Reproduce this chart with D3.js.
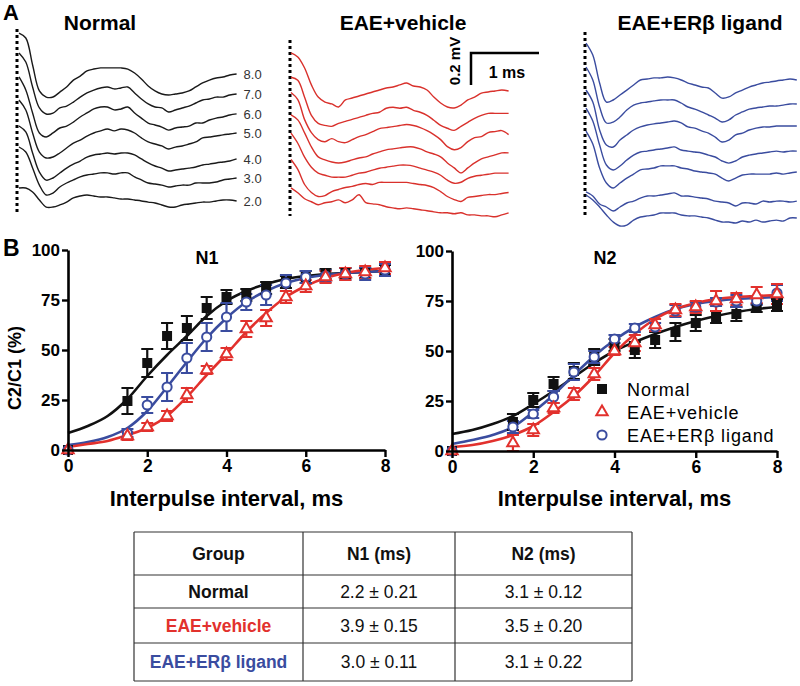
<!DOCTYPE html>
<html><head><meta charset="utf-8">
<script src="https://cdn.jsdelivr.net/npm/d3@7"></script>
<style>
body{margin:0;background:#fff}
svg{display:block;font-family:"Liberation Sans",Arial,Helvetica,sans-serif}
</style>
</head><body>
<svg id="chart" width="800" height="686"></svg>
<script>
// ---------------- DATA ----------------
const groups = ["Normal", "EAE+vehicle", "EAE+ER\u03b2 ligand"];
const colors = ["#111111", "#e2312d", "#3a4c9f"];

// Panel B: interpulse intervals (ms) and C2/C1 (%)
const intervals = [0, 1.5, 2, 2.5, 3, 3.5, 4, 4.5, 5, 5.5, 6, 6.5, 7, 7.5, 8];
const n1Normal   = [0, 24.5, 43.5, 57, 61, 71, 76.5, 77.5, 81, 84, 86.5, 88, 88.5, 88.5, 90];
const n1NormalErr= [1, 6.5, 7, 6.5, 6, 5.5, 3.5, 3, 3, 3, 3, 2.5, 2.5, 2.5, 2.5];
const n1Vehicle  = [0, 7, 11.5, 17, 27.5, 40, 48, 60.5, 66, 76.5, 82, 86.5, 88, 89, 91];
const n1VehicleErr=[1, 2, 2, 2.5, 3.5, 2, 3, 4, 4, 3, 3, 3, 3, 3, 3];
const n1Ligand   = [0, 8.5, 22.5, 31.5, 46, 56.5, 66.5, 74, 77.5, 83.5, 86.5, 87, 88, 88, 90];
const n1LigandErr= [1, 2, 4, 7, 7.5, 7, 7, 4, 5, 4, 3, 3, 3, 3, 3];
const n2Normal   = [0, 14.5, 25.5, 33.5, 40, 47, 53, 50.5, 55.5, 59.5, 64, 67, 68.5, 71.5, 73];
const n2NormalErr= [1, 4, 3.5, 3.5, 4, 4, 3, 4, 4, 4.5, 4, 3, 3.5, 2, 3];
const n2Vehicle  = [0, 4, 10.5, 21.5, 28.5, 38.5, 50, 54, 63, 70.5, 72, 75, 76, 78, 78.5];
const n2VehicleErr=[1, 4, 3, 2.5, 3, 3, 2, 4, 3, 3, 3, 5, 3, 4, 5];
const n2Ligand   = [0, 12, 18.5, 27, 39.5, 47, 56, 61.5, 62, 70, 72, 74.5, 75, 75, 79];
const n2LigandErr= [1, 3, 2, 3, 4, 3, 2, 2, 2, 3, 2.5, 2, 3, 2, 4];

// fitted curves
const fitX = [0, 0.5, 1, 1.5, 2, 2.5, 3, 3.5, 4, 4.5, 5, 5.5, 6, 6.5, 7, 7.5, 8];
const n1FitNormal  = [8.5, 12, 17, 25.5, 37, 47.5, 57, 67, 74.5, 79.5, 83, 85.5, 87, 88, 88.5, 89, 89.5];
const n1FitVehicle = [1.5, 3, 4.5, 7.5, 11, 17, 26.5, 37.5, 48, 59, 68.5, 76.5, 82, 86, 88.5, 90, 91];
const n1FitLigand  = [2.5, 4, 6.5, 11, 19.5, 31.5, 44, 56, 66, 74, 79.5, 83.5, 86, 87.5, 88.5, 89, 89.5];
const n2FitNormal  = [8.5, 10.5, 13.5, 17.5, 23.5, 30, 37, 44, 50, 54.5, 58.5, 62, 65, 67.5, 69.5, 71, 72];
const n2FitVehicle = [2, 3, 5, 8, 12.5, 19.5, 27.5, 37.5, 49, 58.5, 66, 71, 74, 76, 77, 77.5, 78];
const n2FitLigand  = [3.5, 5.5, 8, 12, 19.5, 28, 38, 47.5, 55.5, 62, 67, 71, 73.5, 75, 76, 76.5, 77];

const xTicks = [0, 2, 4, 6, 8];
const yTicks = [0, 25, 50, 75, 100];

// Panel A: compound action potential traces (µV, relative to each trace baseline)
const traceLabels = ["8.0", "7.0", "6.0", "5.0", "4.0", "3.0", "2.0"];
const traceTime = [0,0.1,0.2,0.3,0.4,0.5,0.6,0.7,0.8,0.9,1.0,1.1,1.2,1.3,1.4,1.5,1.6,1.7,1.8,1.9,2.0,2.1,2.2,2.3,2.4,2.5,2.6,2.7,2.8,2.9,3.0,3.1,3.2];
const normalTraces = [
  [256,225,56,-106,-144,-144,-113,-81,-38,-13,19,31,38,38,38,38,31,6,-31,-75,-106,-125,-131,-125,-119,-106,-81,-56,-38,-25,-19,-6,0],
  [263,206,50,-81,-119,-113,-81,-69,-44,-13,13,31,44,50,38,44,50,13,-25,-56,-75,-81,-106,-94,-81,-69,-50,-31,-25,-13,-13,0,6],
  [244,163,19,-106,-131,-106,-75,-63,-38,-6,19,44,56,56,38,44,56,19,-13,-44,-56,-69,-88,-75,-69,-63,-44,-44,-25,-13,-6,6,13],
  [231,169,25,-94,-131,-125,-100,-69,-38,-19,6,25,38,50,38,50,44,25,-6,-31,-44,-56,-75,-63,-56,-44,-31,-6,0,6,13,19,25],
  [200,163,31,-88,-138,-125,-94,-63,-38,-19,6,19,25,31,25,31,31,19,-6,-31,-50,-63,-81,-75,-69,-63,-56,-44,-38,-31,-25,-19,-6],
  [200,169,69,-38,-100,-88,-50,-25,-6,13,25,31,38,38,31,38,38,13,-6,-25,-31,-38,-50,-44,-38,-38,-25,-25,-25,-19,-6,0,6],
  [75,75,50,0,-44,-44,-31,-13,13,25,31,25,19,19,13,6,6,0,-6,-13,-19,-31,-44,-44,-31,-25,-19,-13,-13,-6,0,0,-6]
];
const vehicleTraces = [
  [238,213,144,38,-38,-69,-81,-100,-56,-44,-31,-19,-6,6,19,25,38,50,31,25,6,-38,-75,-100,-106,-88,-56,-38,-13,-6,0,6,0],
  [213,194,88,-25,-75,-88,-94,-75,-63,-50,-38,-25,-13,-6,19,25,19,25,6,-6,-25,-56,-88,-106,-119,-94,-69,-44,-25,-13,-13,-13,-13],
  [244,200,75,-6,-50,-63,-44,-63,-69,-50,-31,-19,0,19,25,31,38,44,38,25,6,-19,-50,-94,-113,-100,-63,-38,-31,-6,0,6,-19],
  [231,200,119,31,-31,-50,-63,-69,-63,-50,-38,-31,-13,0,13,19,25,31,31,19,0,-13,-31,-69,-100,-131,-100,-69,-44,-31,-19,-6,-6],
  [244,181,94,31,-6,-19,-31,-31,-31,-19,-6,0,13,25,31,38,44,44,38,25,13,0,-19,-50,-69,-63,-38,-25,-19,-13,-6,-6,-6],
  [206,144,50,0,-25,-19,6,19,31,38,50,56,50,63,63,63,63,63,56,50,44,31,6,-25,-44,-56,-31,-25,-19,-13,-13,-6,0],
  [156,125,88,69,50,63,69,81,63,81,113,63,56,50,38,31,25,31,25,19,13,6,0,0,-6,0,-13,-13,-19,-19,-25,-13,0]
];
const ligandTraces = [
  [231,156,-19,-138,-125,-94,-63,-31,0,6,13,13,19,13,0,-19,-31,-44,-50,-81,-113,-106,-81,-63,-44,-31,-19,-13,-6,0,6,0],
  [225,144,-25,-125,-119,-88,-44,-13,0,6,13,19,19,19,0,-25,-38,-56,-75,-94,-119,-106,-75,-56,-38,-31,-25,-19,-19,-13,-6,-6],
  [225,150,-25,-119,-131,-88,-56,-25,-6,6,13,19,25,31,19,-6,-13,-31,-44,-69,-100,-88,-56,-44,-25,-13,-6,-6,0,0,0,0],
  [256,175,25,-100,-131,-106,-69,-38,-19,-13,-6,0,6,13,-6,-13,-19,-25,-38,-50,-75,-88,-75,-50,-38,-31,-25,-19,-13,-19,-13,-13],
  [256,175,25,-69,-100,-69,-38,-13,13,19,25,38,38,38,25,19,6,0,-6,-13,-38,-56,-38,-19,-13,-13,-13,-13,-6,-13,-6,0],
  [19,-6,-56,-75,-100,-75,-50,-38,-19,-6,-6,0,6,13,-6,-6,-13,-19,-25,-38,-44,-50,-69,-50,-50,-56,-38,-44,-38,-38,-44,-38],
  [144,113,69,19,-25,-50,-44,-13,6,13,19,31,31,31,19,13,13,6,0,-13,-25,-25,-31,-19,-25,-13,-25,-19,-13,-19,0,0]
];
const scaleBarMv = 0.2, scaleBarMs = 1;

// Table
const tableHeader = ["Group", "N1 (ms)", "N2 (ms)"];
const tableN1 = ["2.2 \u00b1 0.21", "3.9 \u00b1 0.15", "3.0 \u00b1 0.11"];
const tableN2 = ["3.1 \u00b1 0.12", "3.5 \u00b1 0.20", "3.1 \u00b1 0.22"];

// ---------------- DRAW ----------------
const svg = d3.select("#chart");
const PX_PER_MS = 68, PX_PER_MV = 160;

// Panel letters
svg.append("text").attr("x", 3).attr("y", 20).attr("font-size", 22).attr("font-weight", "bold").text("A");
svg.append("text").attr("x", 3).attr("y", 256).attr("font-size", 23).attr("font-weight", "bold").text("B");

// ---- Panel A traces
function tracePanel(traces, opts) {
  const g = svg.append("g");
  const x = d3.scaleLinear().domain([0, 1]).range([opts.x0, opts.x0 + PX_PER_MS]);
  g.append("line").attr("x1", opts.dotX).attr("x2", opts.dotX)
    .attr("y1", opts.dotTop).attr("y2", opts.dotBottom)
    .attr("stroke", "#000").attr("stroke-width", 3).attr("stroke-dasharray", "3,3");
  traces.forEach((vals, k) => {
    const base = opts.top + opts.step * k;
    const y = d3.scaleLinear().domain([0, 1000]).range([base, base - PX_PER_MV]);
    const line = d3.line().x((d, i) => x(traceTime[i])).y(d => y(d)).curve(d3.curveCatmullRom.alpha(0.5));
    g.append("path").attr("d", line(vals)).attr("fill", "none")
      .attr("stroke", opts.color).attr("stroke-width", 1.4);
    if (opts.labels) {
      g.append("text").attr("x", x(traceTime[vals.length - 1]) + 7).attr("y", y(vals[vals.length - 1]) + 5)
        .attr("font-size", 13).attr("fill", "#333").text(traceLabels[k]);
    }
  });
  g.append("text").attr("x", opts.titleX).attr("y", 30).attr("font-size", 21)
    .attr("font-weight", "bold").attr("text-anchor", "middle").text(opts.title);
}
tracePanel(normalTraces, {x0: 19, dotX: 17, dotTop: 29, dotBottom: 214, top: 74, step: 21, color: "#1a1a1a", labels: true, title: groups[0], titleX: 100});
tracePanel(vehicleTraces, {x0: 291, dotX: 290, dotTop: 40, dotBottom: 216, top: 91, step: 20.3, color: "#d9312c", labels: false, title: groups[1], titleX: 403});
tracePanel(ligandTraces, {x0: 586, dotX: 585, dotTop: 32, dotBottom: 218, top: 80, step: 23, color: "#3a4c9f", labels: false, title: groups[2], titleX: 700});

// scale bar
{
  const bx = 471, by = 53;
  const sx = d3.scaleLinear().domain([0, 1]).range([bx, bx + PX_PER_MS]);
  const sy = d3.scaleLinear().domain([0, 1]).range([by + PX_PER_MV * scaleBarMv, by + PX_PER_MV * scaleBarMv - PX_PER_MV]);
  svg.append("path")
    .attr("d", `M${sx(0)},${sy(0)}V${sy(scaleBarMv)}H${sx(scaleBarMs)}`)
    .attr("fill", "none").attr("stroke", "#000").attr("stroke-width", 2.5);
  svg.append("text").attr("transform", `translate(460,${(sy(0) + sy(scaleBarMv)) / 2 - 8}) rotate(-90)`)
    .attr("text-anchor", "middle").attr("font-size", 15).attr("font-weight", "bold").text(scaleBarMv + " mV");
  svg.append("text").attr("x", 507).attr("y", 78).attr("text-anchor", "middle")
    .attr("font-size", 16).attr("font-weight", "bold").text(scaleBarMs + " ms");
}

// ---- Panel B plots
const markerFns = [
  (g, cx, cy, c) => g.append("rect").attr("x", cx - 5).attr("y", cy - 5).attr("width", 10).attr("height", 10).attr("fill", c),
  (g, cx, cy, c) => g.append("path").attr("d", d3.symbol(d3.symbolTriangle, 56)()).attr("transform", `translate(${cx},${cy})`)
      .attr("fill", "#fff").attr("stroke", c).attr("stroke-width", 2),
  (g, cx, cy, c) => g.append("circle").attr("cx", cx).attr("cy", cy).attr("r", 4.6)
      .attr("fill", "#fff").attr("stroke", c).attr("stroke-width", 2)
];

function plot(opts) {
  const g = svg.append("g");
  const x = d3.scaleLinear().domain([0, 8]).range([opts.left, opts.right]);
  const y = d3.scaleLinear().domain([0, 100]).range([opts.bottom, opts.top]);
  const line = d3.line().x((d, i) => x(fitX[i])).y(d => y(d)).curve(d3.curveMonotoneX);
  const order = [0, 2, 1];
  order.forEach(s => {
    g.append("path").attr("d", line(opts.fits[s])).attr("fill", "none")
      .attr("stroke", colors[s]).attr("stroke-width", 2.6);
  });
  order.forEach(s => {
    const vals = opts.series[s], errs = opts.errs[s];
    vals.forEach((v, i) => {
      if (intervals[i] === 0) return;
      const cx = x(intervals[i]);
      const y1 = y(v - errs[i]), y2 = y(v + errs[i]);
      g.append("path").attr("d", `M${cx},${y1}V${y2}M${cx - 6},${y1}H${cx + 6}M${cx - 6},${y2}H${cx + 6}`)
        .attr("fill", "none").attr("stroke", colors[s]).attr("stroke-width", 2.2);
    });
  });
  order.forEach(s => {
    const vals = opts.series[s];
    vals.forEach((v, i) => markerFns[s](g, x(intervals[i]), y(v), colors[s]));
  });
  const ya = g.append("g").attr("transform", `translate(${opts.left},0)`)
    .call(d3.axisLeft(y).tickValues(yTicks).tickSize(6).tickSizeOuter(0).tickPadding(2));
  const xa = g.append("g").attr("transform", `translate(0,${opts.bottom})`)
    .call(d3.axisBottom(x).tickValues(xTicks).tickSize(7).tickSizeOuter(0).tickPadding(3));
  [ya, xa].forEach(a => {
    a.select(".domain").attr("stroke", "#000").attr("stroke-width", 2.6);
    a.selectAll(".tick line").attr("stroke", "#000").attr("stroke-width", 2.4);
    a.selectAll(".tick text").attr("fill", "#000").attr("font-weight", "bold")
      .attr("font-family", "Liberation Sans, Arial, sans-serif");
  });
  ya.selectAll(".tick text").attr("font-size", 17);
  xa.selectAll(".tick text").attr("font-size", 17.5);
  g.append("text").attr("x", opts.titleX).attr("y", 264).attr("text-anchor", "middle")
    .attr("font-size", 18).attr("font-weight", "bold").text(opts.title);
  g.append("text").attr("x", (opts.left + opts.right) / 2).attr("y", 506).attr("text-anchor", "middle")
    .attr("font-size", 22).attr("font-weight", "bold").text("Interpulse interval, ms");
  return {g, x, y};
}

plot({left: 68, right: 385, top: 250, bottom: 450, title: "N1", titleX: 207,
  series: [n1Normal, n1Vehicle, n1Ligand], errs: [n1NormalErr, n1VehicleErr, n1LigandErr],
  fits: [n1FitNormal, n1FitVehicle, n1FitLigand]});
plot({left: 452, right: 777, top: 251, bottom: 451, title: "N2", titleX: 605,
  series: [n2Normal, n2Vehicle, n2Ligand], errs: [n2NormalErr, n2VehicleErr, n2LigandErr],
  fits: [n2FitNormal, n2FitVehicle, n2FitLigand]});

svg.append("text").attr("transform", "translate(21,368) rotate(-90)").attr("text-anchor", "middle")
  .attr("font-size", 18).attr("font-weight", "bold").text("C2/C1 (%)");

// legend
{
  const lg = svg.append("g");
  const ys = [389, 412, 435];
  groups.forEach((name, s) => {
    markerFns[s](lg, 602, ys[s], colors[s]);
    lg.append("text").attr("x", 627).attr("y", ys[s] + 7).attr("font-size", 18)
      .attr("letter-spacing", 0.9).attr("fill", "#000").text(name);
  });
}

// ---- Table
{
  const tg = svg.append("g");
  const cols = [134, 303, 455, 632];
  const rows = [532, 575, 608, 643, 681];
  rows.forEach(r => tg.append("line").attr("x1", cols[0]).attr("x2", cols[3]).attr("y1", r).attr("y2", r)
    .attr("stroke", "#333").attr("stroke-width", 1.2));
  cols.forEach(c => tg.append("line").attr("x1", c).attr("x2", c).attr("y1", rows[0]).attr("y2", rows[4])
    .attr("stroke", "#333").attr("stroke-width", 1.2));
  const mid = i => (cols[i] + cols[i + 1]) / 2;
  const rmid = j => (rows[j] + rows[j + 1]) / 2 + 6;
  tableHeader.forEach((h, i) => tg.append("text").attr("x", mid(i)).attr("y", rmid(0)).attr("text-anchor", "middle")
    .attr("font-size", 17.5).attr("font-weight", "bold").attr("fill", "#111").text(h));
  groups.forEach((name, j) => {
    tg.append("text").attr("x", mid(0)).attr("y", rmid(j + 1)).attr("text-anchor", "middle")
      .attr("font-size", 17.5).attr("font-weight", "bold").attr("fill", j === 0 ? "#111" : colors[j]).text(name);
    tg.append("text").attr("x", mid(1)).attr("y", rmid(j + 1)).attr("text-anchor", "middle")
      .attr("font-size", 17.5).attr("fill", "#111").text(tableN1[j]);
    tg.append("text").attr("x", mid(2)).attr("y", rmid(j + 1)).attr("text-anchor", "middle")
      .attr("font-size", 17.5).attr("fill", "#111").text(tableN2[j]);
  });
}
</script>
</body></html>
